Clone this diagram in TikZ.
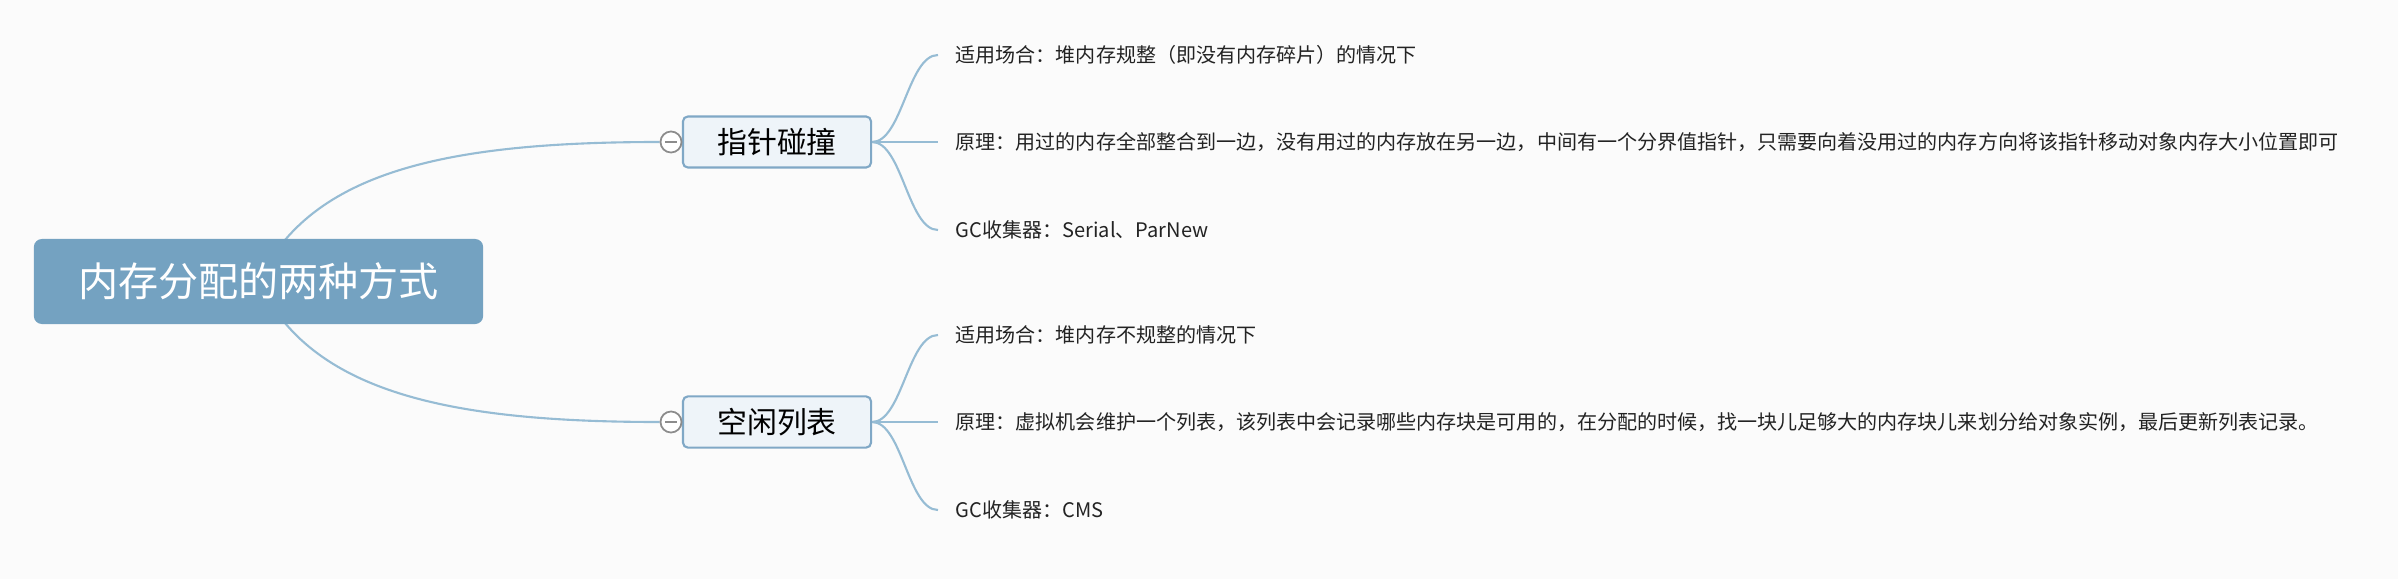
\documentclass[tikz,border=0pt]{standalone}
\usepackage{fontspec}
\setmainfont{Noto Sans CJK SC}
\usepackage{tikz}
\usetikzlibrary{backgrounds}
\definecolor{rootblue}{RGB}{116,162,193}
\definecolor{topicfill}{RGB}{238,244,249}
\definecolor{topicline}{RGB}{128,168,198}
\definecolor{linkblue}{RGB}{150,188,212}
\definecolor{paper}{RGB}{251,251,251}
\definecolor{leafgray}{RGB}{35,35,35}
\definecolor{foldgray}{RGB}{140,140,140}

\begin{document}
\begin{tikzpicture}[x=0.01cm,y=-0.01cm,
    root/.style={rectangle,rounded corners=0.08cm,fill=rootblue,text=white,minimum width=4.49cm,minimum height=0.85cm,font=\fontsize{11.4}{13}\selectfont},
    topic/.style={rectangle,rounded corners=0.05cm,draw=topicline,line width=0.6pt,fill=topicfill,text=black,minimum width=1.88cm,minimum height=0.5cm,font=\fontsize{8.5}{10}\selectfont},
    leaf/.style={anchor=west,inner xsep=0.17cm,text=leafgray,font=\fontsize{5.7}{7}\selectfont},
    link/.style={draw=linkblue,line width=0.6pt},
    fold/.style={circle,draw=foldgray,fill=white,line width=0.5pt,minimum size=0.21cm,inner sep=0pt,
      path picture={\draw[foldgray,line width=0.5pt] ([xshift=0.045cm]path picture bounding box.west) -- ([xshift=-0.045cm]path picture bounding box.east);}}]
      \useasboundingbox (0,0) rectangle (2398,579);

      \node[root] (mem) at (258.5,281.5) {内存分配的两种方式};

      \node[topic] (bump) at (777,142) {指针碰撞};
      \node[fold] (bumpfold) at (671,142) {};
      \node[leaf] (bumpuse) at (938,55) {适用场合：堆内存规整（即没有内存碎片）的情况下};
      \node[leaf] (bumpwhy) at (938,142) {原理：用过的内存全部整合到一边，没有用过的内存放在另一边，中间有一个分界值指针，只需要向着没用过的内存方向将该指针移动对象内存大小位置即可};
      \node[leaf] (bumpgc) at (938,230) {GC收集器：Serial、ParNew};

      \node[topic] (free) at (777,422) {空闲列表};
      \node[fold] (freefold) at (671,422) {};
      \node[leaf] (freeuse) at (938,335) {适用场合：堆内存不规整的情况下};
      \node[leaf] (freewhy) at (938,422) {原理：虚拟机会维护一个列表，该列表中会记录哪些内存块是可用的，在分配的时候，找一块儿足够大的内存块儿来划分给对象实例，最后更新列表记录。};
      \node[leaf] (freegc) at (938,510) {GC收集器：CMS};

      \begin{pgfonlayer}{background}
      \fill[paper] (0,0) rectangle (2398,579);
      \draw[link] (mem.center) .. controls +(52,-111) and +(-211,0) .. (bumpfold.west);
      \draw[link] (mem.center) .. controls +(52,111) and +(-211,0) .. (freefold.west);

      \draw[link] (bump.east) .. controls +(30,0) and +(-30,0) .. (bumpuse.west);
      \draw[link] (bump.east) -- (bumpwhy.west);
      \draw[link] (bump.east) .. controls +(30,0) and +(-30,0) .. (bumpgc.west);

      \draw[link] (free.east) .. controls +(30,0) and +(-30,0) .. (freeuse.west);
      \draw[link] (free.east) -- (freewhy.west);
      \draw[link] (free.east) .. controls +(30,0) and +(-30,0) .. (freegc.west);
      \end{pgfonlayer}

    \end{tikzpicture}
\end{document}
